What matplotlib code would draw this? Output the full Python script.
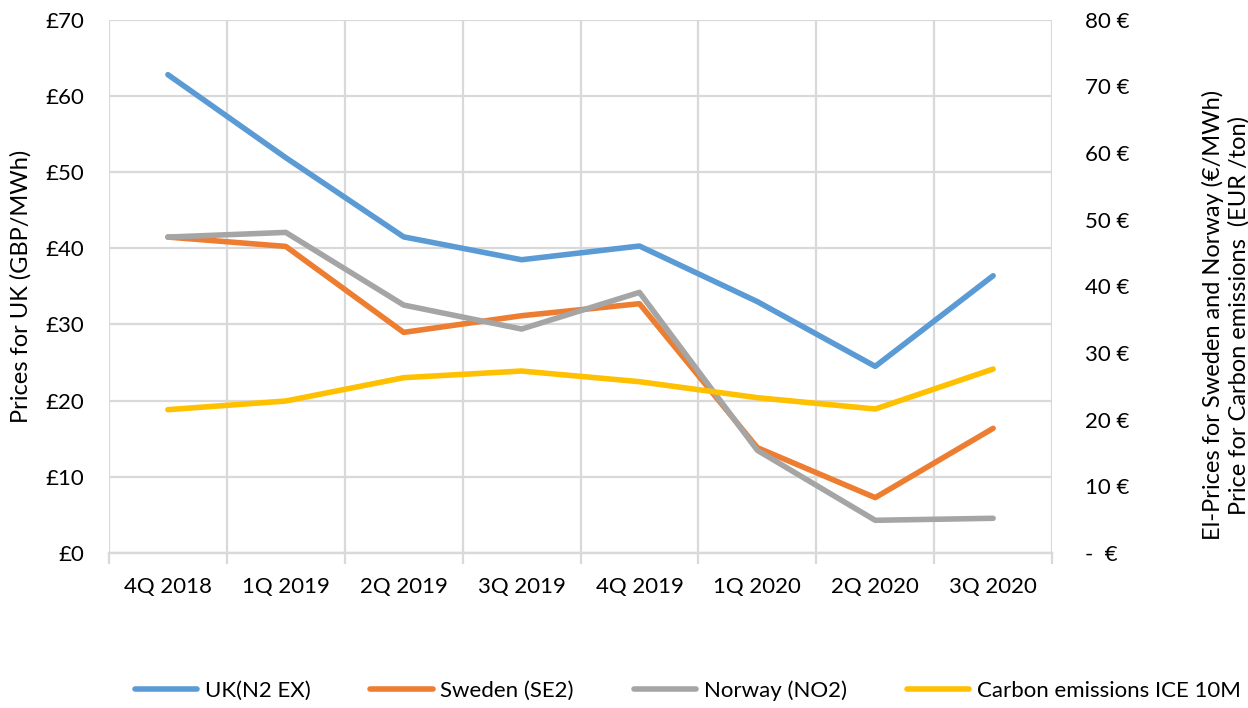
import matplotlib
matplotlib.use("Agg")
import matplotlib.pyplot as plt
from matplotlib.ticker import FixedLocator

plt.rcParams['font.family'] = ['Lato', 'DejaVu Sans']

# quarters on the x axis
quarters = ["4Q 2018", "1Q 2019", "2Q 2019", "3Q 2019", "4Q 2019", "1Q 2020", "2Q 2020", "3Q 2020"]

# UK price, GBP/MWh (left axis)
uk_prices = [62.8, 51.9, 41.5, 38.5, 40.3, 33.0, 24.5, 36.4]
# Sweden / Norway in EUR/MWh, carbon in EUR/ton (right axis)
sweden_prices = [47.4, 46.0, 33.1, 35.6, 37.4, 15.8, 8.3, 18.7]
norway_prices = [47.4, 48.1, 37.2, 33.6, 39.1, 15.4, 4.9, 5.2]
carbon_prices = [21.5, 22.8, 26.3, 27.3, 25.7, 23.3, 21.6, 27.6]

left_ticks = [0, 10, 20, 30, 40, 50, 60, 70]
right_ticks = [0, 10, 20, 30, 40, 50, 60, 70, 80]

grid_col = "#D9D9D9"
txt_col = "#000000"
fs = 16

fig = plt.figure(figsize=(12.48, 7.08), dpi=100)
ax = fig.add_axes([0.0873, 0.219, 0.7557, 0.753])
ax2 = ax.twinx()

x = list(range(len(quarters)))

# the UK line sits on the left axis, the rest on the right one
l1, = ax.plot(x, uk_prices, color="#5B9BD5", lw=4, solid_capstyle="round", solid_joinstyle="round",
              label="UK(N2 EX)", zorder=3)
l2, = ax2.plot(x, sweden_prices, color="#ED7D31", lw=4, solid_capstyle="round", solid_joinstyle="round",
               label="Sweden (SE2)")
l3, = ax2.plot(x, norway_prices, color="#A5A5A5", lw=4, solid_capstyle="round", solid_joinstyle="round",
               label="Norway (NO2)")
l4, = ax2.plot(x, carbon_prices, color="#FFC000", lw=4, solid_capstyle="round", solid_joinstyle="round",
               label="Carbon emissions ICE 10M")

ax.set_xlim(-0.5, len(quarters) - 0.5)
ax.set_ylim(0, 70)
ax2.set_ylim(0, 80)

ax.set_yticks(left_ticks)
ax.set_yticklabels([f"£{v}" for v in left_ticks])
ax2.set_yticks(right_ticks)
ax2.set_yticklabels([f"{v} €" if v else "-  €" for v in right_ticks])

ax.set_xticks(x)
ax.set_xticklabels(quarters)
ax.xaxis.set_minor_locator(FixedLocator([i - 0.5 for i in range(len(quarters) + 1)]))

# grid: horizontal every 10, vertical on category boundaries
ax.grid(axis="y", which="major", color=grid_col, lw=1.6)
ax.grid(axis="x", which="minor", color=grid_col, lw=1.6)
ax.set_axisbelow(True)

ax.tick_params(axis="x", which="major", length=0, pad=17, labelsize=fs, colors=txt_col)
ax.tick_params(axis="x", which="minor", length=8, width=1.6, color=grid_col)
ax.tick_params(axis="y", length=0, pad=18, labelsize=fs, colors=txt_col)
ax2.tick_params(axis="y", length=0, pad=24, labelsize=fs, colors=txt_col)

for a in (ax, ax2):
    for side in ("top", "left", "right"):
        a.spines[side].set_visible(False)
    a.spines["bottom"].set_color(grid_col)
    a.spines["bottom"].set_linewidth(1.6)

ax.set_ylabel("Prices for UK (GBP/MWh)", fontsize=17, labelpad=10)

fig.text(0.972, 0.555, "El-Prices for Sweden and Norway (€/MWh)", rotation=90,
         ha="center", va="center", fontsize=17)
fig.text(0.993, 0.555, "Price for Carbon emissions  (EUR /ton)", rotation=90,
         ha="center", va="center", fontsize=17)

fig.legend(handles=[l1, l2, l3, l4], loc="center", bbox_to_anchor=(0.551, 0.025), ncol=4,
           frameon=False, fontsize=fs, handlelength=2.8, columnspacing=2.7, handletextpad=0.35)

fig.savefig("out.png", dpi=100)
